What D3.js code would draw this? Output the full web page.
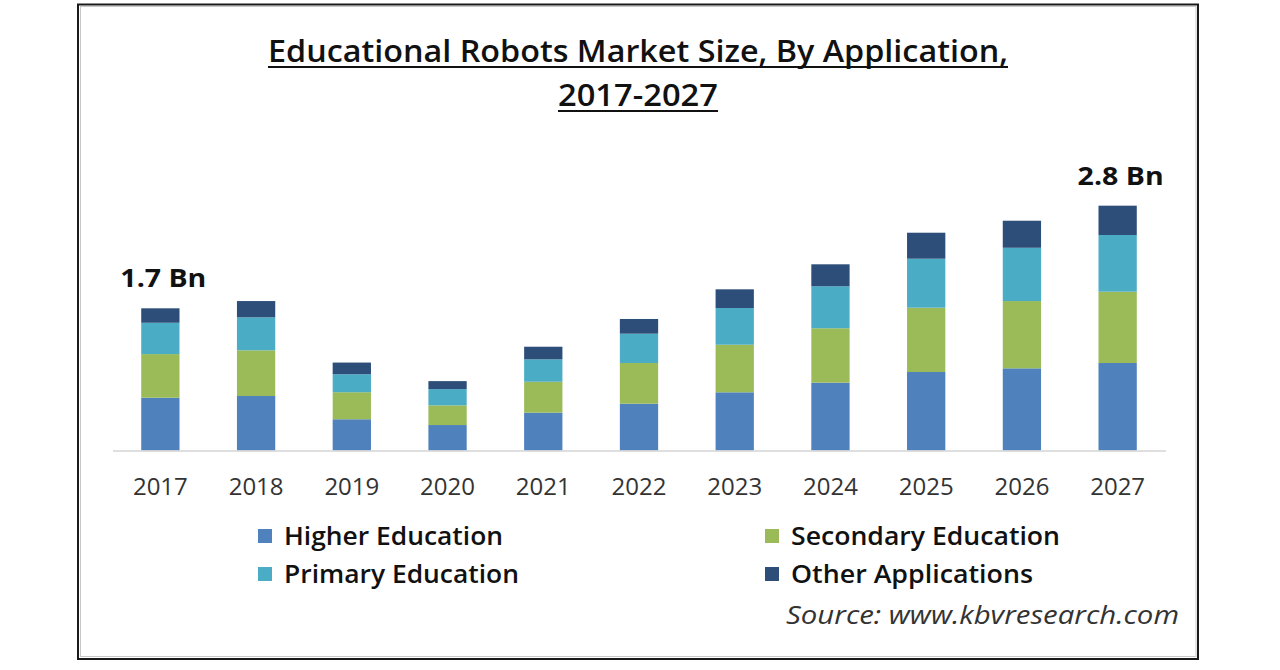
<!DOCTYPE html>
<html lang="en">
<head>
  <meta charset="UTF-8">
  <title>Educational Robots Market Size</title>
  <script src="https://cdn.jsdelivr.net/npm/d3@7"></script>
  <style>
    body{
      margin:0; padding:0;
      background-color:#fff;
    }
    text{
      font-family:"Open Sans","Noto Sans",sans-serif;
    }
    .title{
      font-weight:600;
      font-size:30px;
      fill:#111;
    }
    .xAxis text{
      font-size:24px;
      fill:#333;
    }
    .xAxis path{
      stroke:#d4d4d4;
      stroke-width:1.5;
    }
    .legend text{
      font-weight:600;
      font-size:26px;
      fill:#111;
    }
    .total{
      font-weight:700;
      font-size:25px;
      fill:#111;
    }
    .source{
      font-style:italic;
      font-size:26px;
      fill:#333;
    }
  </style>
</head>
<body>
<div id="chart"></div>
<script>

let years=["2017","2018","2019","2020","2021","2022","2023","2024","2025","2026","2027"];

// USD Bn
let higherEducation   =[0.603,0.623,0.357,0.291,0.432,0.535,0.665,0.775,0.897,0.939,1.000];
let secondaryEducation=[0.499,0.522,0.309,0.225,0.354,0.465,0.544,0.622,0.735,0.769,0.815];
let primaryEducation  =[0.358,0.377,0.206,0.186,0.256,0.335,0.419,0.480,0.560,0.609,0.648];
let otherApplications =[0.165,0.186,0.133,0.091,0.144,0.168,0.214,0.251,0.297,0.309,0.335];

let seriesNames=["Higher Education","Secondary Education","Primary Education","Other Applications"];
let seriesColors=["#4f81bd","#9bbb59","#4bacc6","#2d4e78"];

let totalLabels=[{year:"2017",text:"1.7 Bn"},{year:"2027",text:"2.8 Bn"}];

let width=1280, height=670;

let svg=d3.select("#chart").append("svg")
    .attr("width",width)
    .attr("height",height);

// frame
svg.append("rect")
    .attr("x",78).attr("y",4.5)
    .attr("width",1120).attr("height",654.5)
    .attr("fill","#fff")
    .attr("stroke","#1a1a1a")
    .attr("stroke-width",2);
svg.append("rect")
    .attr("x",80.5).attr("y",6.5)
    .attr("width",1115.5).attr("height",650)
    .attr("fill","none")
    .attr("stroke","#c8c8c8")
    .attr("stroke-width",1);

// title, underlined
let titleLines=[
  {text:"Educational Robots Market Size, By Application,",y:62,len:740},
  {text:"2017-2027",y:106,len:160}
];
titleLines.forEach(function(t){
  svg.append("text").attr("class","title")
      .attr("x",638).attr("y",t.y)
      .attr("text-anchor","middle")
      .attr("textLength",t.len).attr("lengthAdjust","spacingAndGlyphs")
      .text(t.text);
  svg.append("line")
      .attr("x1",638-t.len/2).attr("x2",638+t.len/2)
      .attr("y1",t.y+5).attr("y2",t.y+5)
      .attr("stroke","#111").attr("stroke-width",2);
});

let data=years.map(function(y,i){
  return {year:y,
    "Higher Education":higherEducation[i],
    "Secondary Education":secondaryEducation[i],
    "Primary Education":primaryEducation[i],
    "Other Applications":otherApplications[i]};
});

let x=d3.scaleBand().domain(years).range([112.5,1165.5]).paddingInner(0.6).paddingOuter(0.3);
let y=d3.scaleLinear().domain([0,3.5]).range([450.5,144.25]);

let stack=d3.stack().keys(seriesNames)(data);

svg.append("g").selectAll("g")
  .data(stack)
  .join("g")
    .attr("fill",function(d,i){ return seriesColors[i]; })
  .selectAll("rect")
  .data(function(d){ return d; })
  .join("rect")
    .attr("x",function(d){ return x(d.data.year); })
    .attr("y",function(d){ return y(d[1]); })
    .attr("width",x.bandwidth())
    .attr("height",function(d){ return y(d[0])-y(d[1]); });

let xAxis=svg.append("g").attr("class","xAxis")
    .attr("transform","translate(0,"+y(0)+")")
    .call(d3.axisBottom(x).tickSize(0).tickPadding(27).tickSizeOuter(0));
xAxis.selectAll("text").attr("dy","0.71em");

// totals over first and last bars
let totals=years.map(function(y,i){
  return higherEducation[i]+secondaryEducation[i]+primaryEducation[i]+otherApplications[i];
});
svg.selectAll(".total")
  .data(totalLabels)
  .join("text").attr("class","total")
    .attr("x",function(d){ return x(d.year)+x.bandwidth()/2+3; })
    .attr("y",function(d){ return y(totals[years.indexOf(d.year)])-21; })
    .attr("text-anchor","middle")
    .attr("textLength",86).attr("lengthAdjust","spacingAndGlyphs")
    .text(function(d){ return d.text; });

// legend
let legendPos=[
  {x:258,y:545,len:219},
  {x:765,y:545,len:269},
  {x:258,y:583,len:235},
  {x:765,y:583,len:242}
];
let legend=svg.append("g").attr("class","legend");
seriesNames.forEach(function(name,i){
  let p=legendPos[i];
  legend.append("rect")
      .attr("x",p.x).attr("y",p.y-16)
      .attr("width",14).attr("height",14)
      .attr("fill",seriesColors[i]);
  legend.append("text")
      .attr("x",p.x+26).attr("y",p.y)
      .attr("textLength",p.len).attr("lengthAdjust","spacingAndGlyphs")
      .text(name);
});

svg.append("text").attr("class","source")
    .attr("x",1179).attr("y",624)
    .attr("text-anchor","end")
    .attr("textLength",393).attr("lengthAdjust","spacingAndGlyphs")
    .text("Source: www.kbvresearch.com");

</script>
</body>
</html>
